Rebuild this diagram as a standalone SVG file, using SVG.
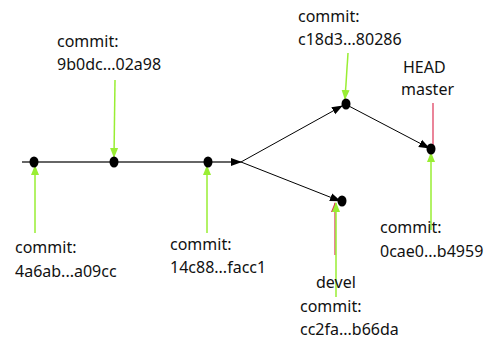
<svg xmlns="http://www.w3.org/2000/svg" width="488" height="347" viewBox="0 0 488 347">
<style>
text{font-family:"Noto Sans","Open Sans",sans-serif;font-size:16px;fill:#111}
.n{fill:#000}
.g{stroke:#99ee33;stroke-width:1.5;fill:none}
.r{stroke:#dd3355;stroke-width:1.2;fill:none}
.b{stroke:#000;stroke-width:1;fill:none}
</style>
<defs>
<marker id="ag" markerWidth="10" markerHeight="10" refX="9" refY="5" orient="auto" markerUnits="userSpaceOnUse"><path d="M0,1 L10,5 L0,9 Z" fill="#99ee33"/></marker>
<marker id="ar" markerWidth="10" markerHeight="10" refX="9" refY="5" orient="auto" markerUnits="userSpaceOnUse"><path d="M0,1 L10,5 L0,9 Z" fill="#dd3355"/></marker>
<marker id="ab" markerWidth="11" markerHeight="10" refX="10" refY="5" orient="auto" markerUnits="userSpaceOnUse"><path d="M0,1 L11,5 L0,9 Z" fill="#000"/></marker>
</defs>
<g id="connectors">
<line x1="22" y1="162" x2="241" y2="162" stroke="#666" stroke-width="2" marker-end="url(#ab)"/>
<line class="b" x1="241" y1="162" x2="342" y2="106" marker-end="url(#ab)"/>
<line class="b" x1="241" y1="162" x2="340" y2="201" marker-end="url(#ab)"/>
<line class="b" x1="345" y1="104" x2="429" y2="148" marker-end="url(#ab)"/>
<line class="g" x1="115" y1="80" x2="114" y2="157" marker-end="url(#ag)"/>
<line class="g" x1="35" y1="233" x2="35" y2="166" marker-end="url(#ag)"/>
<line class="g" x1="207" y1="233" x2="207" y2="166" marker-end="url(#ag)"/>
<line class="g" x1="348" y1="53" x2="345" y2="99" marker-end="url(#ag)"/>
<line class="r" x1="433" y1="103" x2="433" y2="148"/>
<line class="g" x1="431" y1="230" x2="431" y2="153" marker-end="url(#ag)"/>
<line class="r" x1="335" y1="255" x2="335" y2="203" marker-end="url(#ar)"/>
<line class="g" x1="336" y1="297" x2="336" y2="203" marker-end="url(#ag)"/>
</g>
<g id="n1"><ellipse class="n" cx="34" cy="162" rx="4.5" ry="5.5"/><text x="15" y="253">commit:</text><text x="15" y="277">4a6ab...a09cc</text></g>
<g id="n2"><ellipse class="n" cx="114" cy="162" rx="4.5" ry="5.5"/><text x="57" y="47">commit:</text><text x="57" y="70">9b0dc...02a98</text></g>
<g id="n3"><ellipse class="n" cx="208" cy="162" rx="4.5" ry="5.5"/><text x="170" y="250">commit:</text><text x="170" y="273">14c88...facc1</text></g>
<g id="n4"><ellipse class="n" cx="346" cy="104" rx="4.5" ry="5.5"/><text x="298" y="22">commit:</text><text x="298" y="45">c18d3...80286</text></g>
<g id="n5"><ellipse class="n" cx="342" cy="201" rx="4.5" ry="5.5"/><text x="316" y="288">devel</text><text x="300" y="312">commit:</text><text x="300" y="335">cc2fa...b66da</text></g>
<g id="n6"><ellipse class="n" cx="431" cy="149" rx="4.5" ry="5.5"/><text x="403" y="73">HEAD</text><text x="401" y="95">master</text><text x="380" y="233">commit:</text><text x="380" y="257">0cae0...b4959</text></g>
</svg>
